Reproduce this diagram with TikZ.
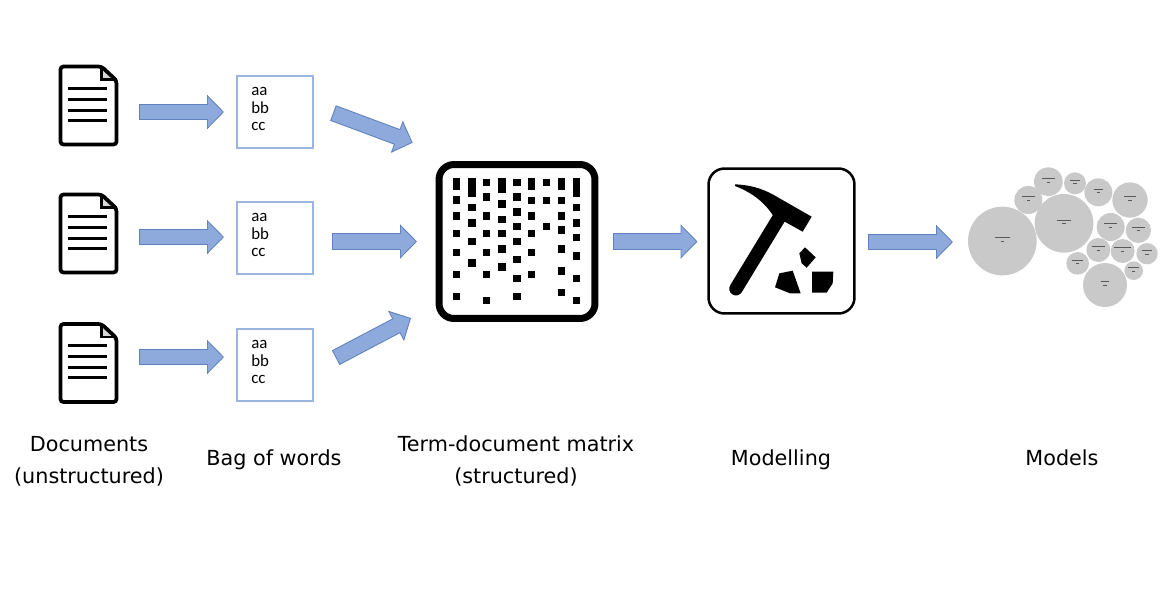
\documentclass[tikz,border=0pt]{standalone}
\usepackage{fontspec}
\setmainfont{DejaVu Sans}
\newfontfamily\bagfont{Carlito}
\usetikzlibrary{calc,positioning,arrows.meta}
\definecolor{arrowfill}{HTML}{8EA9DB}
\definecolor{arrowedge}{HTML}{5F82BC}
\definecolor{boxedge}{HTML}{9DB4DC}
\definecolor{bubble}{HTML}{C9C9C9}
\definecolor{folded}{HTML}{D8D8D8}
\tikzset{
  blockarrow/.style={draw=arrowedge,line width=0.33cm,-{Triangle[length=0.34cm,width=0.67cm]},
    postaction={draw=arrowfill,line width=0.29cm,shorten <=0.02cm,shorten >=0.029cm,
      -{Triangle[length=0.292cm,width=0.576cm]}}},
  docbox/.style={minimum width=1.18cm,minimum height=1.62cm,inner sep=0pt,outer sep=0pt},
  bagbox/.style={draw=boxedge,line width=0.03cm,minimum width=1.52cm,minimum height=1.44cm,inner sep=0pt,outer sep=0pt},
  bagtext/.style={font=\bagfont\fontsize{9.6}{10}\selectfont,align=left,inner sep=0pt},
  caption/.style={font=\fontsize{11.8}{17.7}\selectfont,align=center,inner sep=0pt,anchor=base},
  docicon/.pic={
    \draw[fill=folded,line width=0.05cm] (13,-38) -- (13,-26) -- (28,-26);
    \draw[line width=0.075cm,rounded corners=0.06cm] (-28,-39) -- (13,-39) -- (28,-25) -- (28,39) -- (-28,39) -- cycle;
    \foreach \ly in {-17.5,-6.5,4.5,14.5}
      \draw[line width=0.06cm] (-20.5,\ly) -- (18.5,\ly);
  }
}
\begin{document}
\begin{tikzpicture}[x=0.02cm,y=-0.02cm]
\useasboundingbox (0,0) rectangle (1176,600);
% documents and bags of words
\foreach \i/\docy/\boxy in {1/105.5/112,2/233.5/238,3/363/365} {
  \node[docbox] (doc\i) at (88.5,\docy) {};
  \pic at (doc\i) {docicon};
  \node[bagbox] (box\i) at (275,\boxy) {};
  \node[bagtext,anchor=north west] (bag\i) at ($(box\i.north west)+(14,11)$) {aa\\bb\\cc};
}
% matrix
\node[draw,line width=0.14cm,rounded corners=0.3cm,minimum width=3.12cm,minimum height=3.08cm,inner sep=0pt,outer sep=0pt] (mat) at (517,241.5) {};
\foreach \x/\ys in {456.7/{184,200,216,233.7,252.3,274.7,296.3},
                    472/{188,207.7,223,241.3,263},
                    486.7/{182.3,197,216,233.7,252.3,274.7,300.3},
                    502/{186,204,219.3,233.7,249,267},
                    517/{182.3,197,212,226.3,241.3,259.7,278.3,296.3},
                    531.7/{184,200.3,216,233.7,252.3,274.7},
                    546.7/{182.3,200.3,226.3},
                    561.3/{184,200.3,216,230,249,271,292.7},
                    576.7/{187.5,207.7,223,237.7,256,278.3,300.3}}
  \foreach \y in \ys
    \fill (\x-3.7,\y-3.7) rectangle (\x+3.7,\y+3.7);
% tall marks in the first row
\foreach \x/\yb in {456.7/190,472/197.3,502/193.3,531.7/190,561.3/190,576.7/196.7}
  \fill (\x-3.7,178.3) rectangle (\x+3.7,\yb);
% modelling
\node[draw,line width=0.05cm,rounded corners=0.32cm,minimum width=2.92cm,minimum height=2.9cm,inner sep=0pt,outer sep=0pt] (mod) at (781.5,241) {};
\begin{scope}[shift={(700,160)},scale=1/3]
  \draw[line width=0.27cm,line cap=round] (108,386) -- (238,172);
  \fill (105,73) .. controls (165,75) and (205,95) .. (230,110) -- (335,170) -- (308,215)
    -- (218,165) .. controls (190,122) and (150,95) .. (105,78) -- cycle;
  \fill (315,262) -- (347,292) -- (320,323) -- (305,310) -- (298,280) -- cycle;
  \fill (238,340) -- (278,332) -- (302,400) -- (270,400) -- (225,382) -- cycle;
  \fill (336,335) -- (400,335) -- (398,370) -- (380,398) -- (336,398) -- cycle;
\end{scope}
% models
\foreach \x/\y/\r/\w [count=\n] in {127/258/103/22,312/205/88/22,205/135/42/20,265/80/43/20,345/85/33/15,
    415/112/42/13,510/135/53/18,452/216/42/20,535/226/38/20,415/285/36/20,488/288/36/25,
    561/296/32/14,353/325/34/17,435/390/66/13,521/347/28/17} {
  \node[circle,fill=bubble,minimum size={\r*0.01333cm},inner sep=0pt,outer sep=0pt] (bub\n) at (960+\x/3,155+\y/3) {};
  \begin{scope}[shift={(960,155)},scale=1/3]
    \draw[gray!70!black,line width=0.2pt] (\x-\w,\y-11) -- (\x+\w,\y-11);
    \draw[gray!70!black,line width=0.2pt] (\x-5,\y) -- (\x+5,\y);
  \end{scope}
}
% arrows
\draw[blockarrow] ($(doc1.east |- box1.west)+(21,0)$) -- ($(box1.west)+(-13,0)$);
\draw[blockarrow] ($(doc2.east |- box2.west)+(21,-1)$) -- ($(box2.west)+(-13,-1)$);
\draw[blockarrow] ($(doc3.east |- box3.west)+(21,-8)$) -- ($(box3.west)+(-13,-8)$);
\draw[blockarrow] ($(box1.east)+(20,1)$) -- ($(mat.west)+(-26.3,-98.8)$);
\draw[blockarrow] ($(box2.east |- mat.west)+(19,0)$) -- ($(mat.west)+(-22,0)$);
\draw[blockarrow] ($(box3.east)+(22.7,-7.3)$) -- ($(mat.west)+(-28,76.5)$);
\draw[blockarrow] ($(mat.east)+(18,0)$) -- ($(mod.west |- mat.east)+(-11,0)$);
\draw[blockarrow] ($(mod.east)+(14,1)$) -- ($(bub1.west)+(-15,1)$);
% captions
\node[caption] (capdoc) at (89,483) {Documents\\(unstructured)};
\node[caption] (capbag) at (274,465.5) {Bag of words};
\node[caption] (capmat) at (516,483) {Term-document matrix\\(structured)};
\node[caption] (capmod) at (781,465.5) {Modelling};
\node[caption] (capmodels) at (1062,465.5) {Models};
\end{tikzpicture}
\end{document}
